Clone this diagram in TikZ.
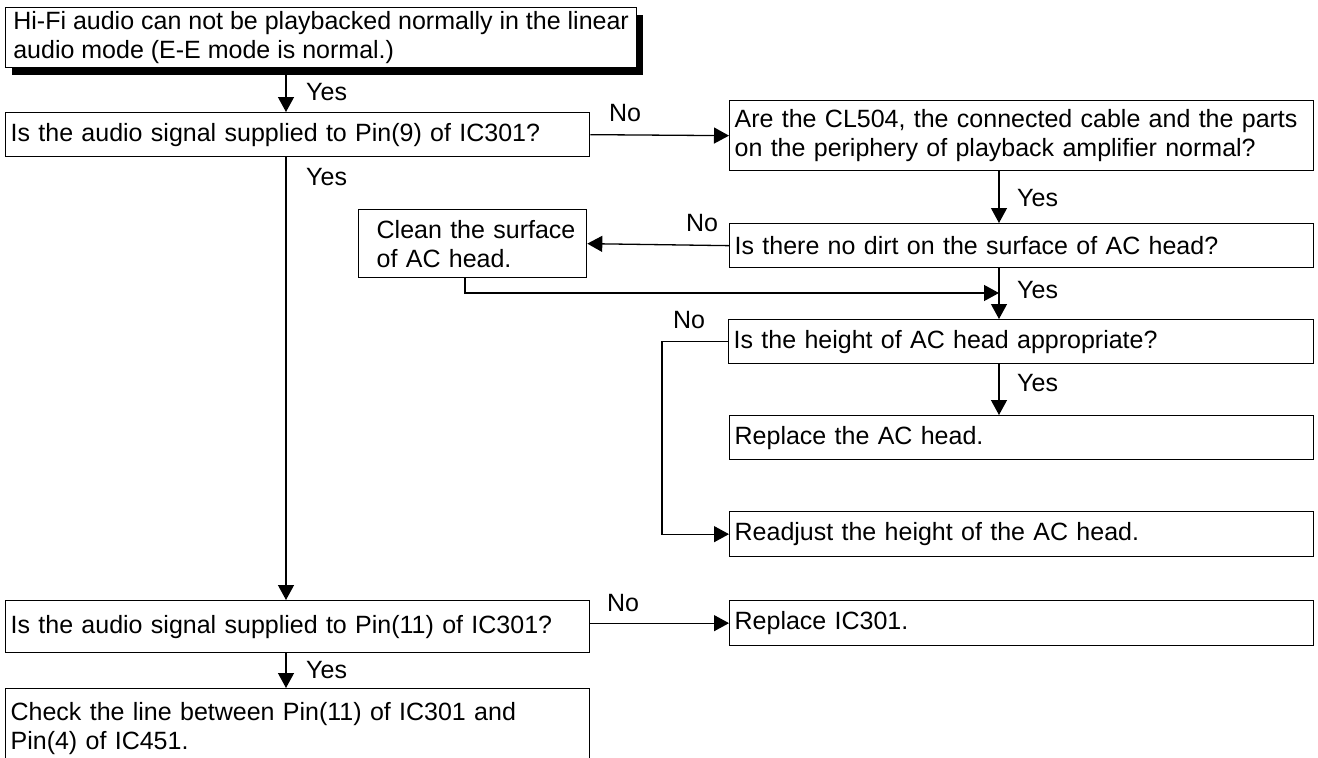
\documentclass[tikz,border=0pt]{standalone}
\usepackage{fontspec}
\setmainfont{Liberation Sans}
\usetikzlibrary{arrows.meta,shadows}
\begin{document}
\begin{tikzpicture}[x=1pt,y=-1pt,every node/.style={font=\fontsize{25}{29}\selectfont},
  stepbox/.style={draw,line width=1.3pt,fill=white,anchor=north west,align=left,inner xsep=5pt,inner ysep=0pt},
  wbox/.style={stepbox,text width=574pt},
  flow/.style={line width=1.3pt,-{Triangle[length=15pt,width=16pt]}},
  lbl/.style={inner sep=0pt}]
\clip (0,0) rectangle (1318,758);
\node[stepbox,inner xsep=2pt,minimum width=631pt,minimum height=60pt,drop shadow={shadow xshift=6pt,shadow yshift=-7pt,opacity=1,fill=black}] (start) at (5,7) {Hi-Fi audio can not be playbacked normally in the linear\\audio mode (E-E mode is normal.)};
\node[wbox,minimum height=44pt] (pin9) at (5,112) {Is the audio signal supplied to Pin(9) of IC301?};
\node[wbox,minimum height=70pt] (cl504) at (729,100) {Are the CL504, the connected cable and the parts\\on the periphery of playback amplifier normal?};
\node[wbox,minimum height=44pt] (dirt) at (729,223) {Is there no dirt on the surface of AC head?};
\node[stepbox,text width=218pt,minimum height=68pt] (clean) at (358,209) {\hspace*{13pt}Clean the surface\\\hspace*{13pt}of AC head.};
\node[stepbox,text width=575pt,minimum height=44pt] (height) at (728,319) {Is the height of AC head appropriate?};
\node[wbox,minimum height=44pt] (repac) at (729,415) {Replace the AC head.};
\node[wbox,minimum height=45pt] (readj) at (729,511) {Readjust the height of the AC head.};
\node[wbox,minimum height=52pt] (pin11) at (5,600) {Is the audio signal supplied to Pin(11) of IC301?};
\node[wbox,minimum height=45pt] (repic) at (729,600) {Replace IC301.};
\node[wbox,minimum height=80pt] (check) at (5,688) {Check the line between Pin(11) of IC301 and\\Pin(4) of IC451.};
\coordinate (colL) at (286,0); \coordinate (colR) at (999,0); \coordinate (colC) at (465,0); \coordinate (colN) at (662,0);
\coordinate (join) at (999,293);
\draw[flow] (start.south -| colL) -- (pin9.north -| colL); \draw[flow] (pin9.south -| colL) -- (pin11.north -| colL); \draw[flow] (pin11.south -| colL) -- (check.north -| colL);
\draw[flow] (pin9.east) -- (cl504.west); \draw[flow] (pin11.east |- repic.west) -- (repic.west);
\draw[flow] (cl504.south -| colR) -- (dirt.north -| colR); \draw[flow] (dirt.south -| colR) -- (height.north -| colR); \draw[flow] (height.south -| colR) -- (repac.north -| colR);
\draw[flow] (dirt.west) -- (clean.east); \draw[flow] (clean.south -| colC) |- (join);
\draw[flow] (height.west) -- (height.west -| colN) |- (readj.west);
\node[lbl,anchor=west] at (306,92) {Yes}; \node[lbl,anchor=west] at (306,177) {Yes}; \node[lbl,anchor=west] at (306,670) {Yes};
\node[lbl,anchor=west] at (1017,198) {Yes}; \node[lbl,anchor=west] at (1017,290) {Yes}; \node[lbl,anchor=west] at (1017,383) {Yes};
\node[lbl] at (625,113) {No}; \node[lbl] at (702,223) {No}; \node[lbl] at (689,320) {No}; \node[lbl] at (623,603) {No};
\end{tikzpicture}
\end{document}
